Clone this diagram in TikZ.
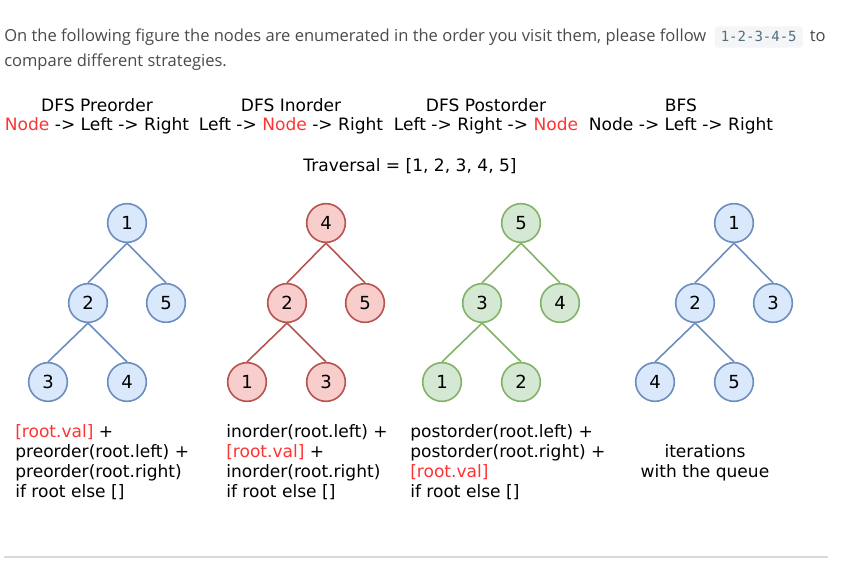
\documentclass[tikz,border=0pt]{standalone}
\usepackage{fontspec}
\setmainfont{Open Sans}
\newfontfamily\sketchfont{DejaVu Sans}
\newfontfamily\codefont{DejaVu Sans Mono}
\usetikzlibrary{positioning}

\definecolor{blueline}{HTML}{6C8EBF}
\definecolor{bluefill}{HTML}{DAE8FC}
\definecolor{redline}{HTML}{B85450}
\definecolor{redfill}{HTML}{F8CECC}
\definecolor{greenline}{HTML}{82B366}
\definecolor{greenfill}{HTML}{D5E8D4}
\definecolor{hlred}{HTML}{FF3333}
\definecolor{paratext}{HTML}{4A4A4A}
\definecolor{codebg}{HTML}{F3F5F7}
\definecolor{codetext}{HTML}{546E7A}

\newcommand{\hl}[1]{\textcolor{hlred}{#1}}

\tikzset{
  treenode/.style={circle, draw=#1line, fill=#1fill, line width=1.2pt,
    minimum size=29pt, inner sep=0pt, font=\sketchfont\fontsize{13.5}{15}\selectfont},
  edge/.style={draw=#1line, line width=1.2pt},
  sketch/.style={font=\sketchfont\fontsize{12.8}{15}\selectfont, inner sep=0pt},
  para/.style={font=\fontsize{12.4}{15}\selectfont, text=paratext, inner sep=0pt},
}

\begin{document}
\begin{tikzpicture}[x=0.75pt,y=-0.75pt]
    \useasboundingbox (0,0) rectangle (856,566);

    % intro text
    \node[para, anchor=base west] (line1) at (4,42)
        {On the following figure the nodes are enumerated in the order you visit them, please follow};
    \node[fill=codebg, rounded corners=2pt, inner xsep=4.5pt, inner ysep=4pt, text=codetext,
          font=\codefont\fontsize{10.5}{12}\selectfont, anchor=base west]
        (dashes) at ([xshift=6pt]line1.base east) {1-2-3-4-5};
    \node[para, anchor=base west] (to) at ([xshift=5pt]dashes.base east) {to};
    \node[para, anchor=base west] (line2) at (4,67) {compare different strategies.};

    % strategy titles
    \foreach \t/\x/\name/\order in {
        pre/97/DFS Preorder/\hl{Node} -> Left -> Right,
        in/291/DFS Inorder/Left -> \hl{Node} -> Right,
        post/486/DFS Postorder/Left -> Right -> \hl{Node},
        bfs/681/BFS/Node -> Left -> Right} {
            \node[sketch] (\t-title) at (\x,105) {\name};
            \node[sketch] (\t-order) at (\x,126) {\order};
    }
    \node[sketch] (traversal) at (410,166) {Traversal = [1, 2, 3, 4, 5]};

    % the four trees
    \foreach \t/\x/\c/\va/\vb/\vc/\vd/\ve in {
        pre/127/blue/1/2/5/3/4,
        in/326/red/4/2/5/1/3,
        post/521/green/5/3/4/1/2,
        bfs/734/blue/1/2/3/4/5} {
            \node[treenode=\c] (\t-root) at (\x,223) {\va};
            \node[treenode=\c] (\t-l)  at (\x-39,303) {\vb};
            \node[treenode=\c] (\t-r)  at (\x+39,303) {\vc};
            \node[treenode=\c] (\t-ll) at (\x-79,382) {\vd};
            \node[treenode=\c] (\t-lr) at (\x,382) {\ve};
            \draw[edge=\c] (\t-root.south) -- (\t-l.north);
            \draw[edge=\c] (\t-root.south) -- (\t-r.north);
            \draw[edge=\c] (\t-l.south) -- (\t-ll.north);
            \draw[edge=\c] (\t-l.south) -- (\t-lr.north);
    }

    % recursion formulas
    \node[sketch, align=left, anchor=north west] (pre-code) at (15,424)
        {\hl{[root.val]} +\\preorder(root.left) +\\preorder(root.right)\\if root else []};
    \node[sketch, align=left, anchor=north west] (in-code) at (226,424)
        {inorder(root.left) +\\\hl{[root.val]} +\\inorder(root.right)\\if root else []};
    \node[sketch, align=left, anchor=north west] (post-code) at (410,424)
        {postorder(root.left) +\\postorder(root.right) +\\\hl{[root.val]}\\if root else []};
    \node[sketch, align=center] (bfs-code) at (705,463) {iterations\\with the queue};

    \draw[black!15, line width=1pt] (4,557) -- (828,557);
\end{tikzpicture}
\end{document}
